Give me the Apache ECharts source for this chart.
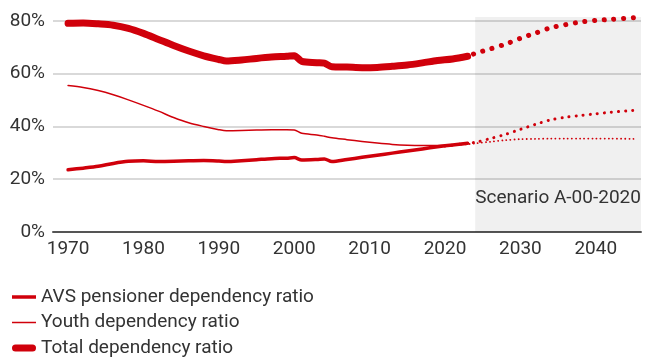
<!DOCTYPE html>
<html>
<head>
<meta charset="utf-8">
<script src="https://cdn.jsdelivr.net/npm/echarts@6/dist/echarts.min.js"></script>
<style>
  html, body { margin: 0; padding: 0; background: #fff; }
  #chart { width: 646px; height: 357px; }
</style>
</head>
<body>
<div id="chart"></div>
<script>
// Historical years and ratios (%)
const histYears = [1970, 1972, 1974, 1976, 1978, 1980, 1982, 1984, 1986, 1988, 1990, 1991, 1993, 1995, 1997, 1999, 2000, 2001, 2003, 2004, 2005, 2007, 2009, 2011, 2013, 2015, 2017, 2019, 2021, 2023];
const avsHist   = [23.6, 24.2, 24.9, 26.0, 26.8, 27.0, 26.7, 26.8, 27.0, 27.1, 26.9, 26.7, 27.0, 27.4, 27.8, 28.0, 28.2, 27.3, 27.5, 27.7, 26.7, 27.5, 28.3, 29.1, 29.9, 30.7, 31.5, 32.3, 33.0, 33.6];
const youthHist = [55.5, 54.8, 53.6, 52.0, 50.1, 48.0, 45.8, 43.4, 41.4, 40.0, 38.8, 38.4, 38.5, 38.7, 38.8, 38.8, 38.7, 37.4, 36.8, 36.3, 35.7, 35.0, 34.3, 33.7, 33.2, 32.9, 32.8, 32.8, 33.0, 33.3];
const totalHist = [79.1, 79.2, 78.9, 78.4, 77.2, 75.3, 73.0, 70.7, 68.6, 66.8, 65.4, 64.8, 65.2, 65.8, 66.3, 66.6, 66.8, 64.7, 64.2, 64.0, 62.6, 62.5, 62.3, 62.4, 62.8, 63.3, 64.1, 65.0, 65.6, 66.6];

// Scenario A-00-2020 projections (%)
const projYears  = [2020, 2023, 2024, 2026, 2028, 2030, 2032, 2034, 2036, 2038, 2040, 2042, 2045];
const avsProj    = [32.6, 33.6, 34.0, 35.4, 37.0, 38.9, 40.8, 42.5, 43.5, 44.2, 44.8, 45.4, 46.1];
const youthProj  = [32.9, 33.3, 33.6, 34.2, 34.8, 35.2, 35.3, 35.4, 35.4, 35.4, 35.4, 35.4, 35.3];
const totalProj  = [65.3, 66.6, 67.7, 69.4, 71.2, 73.4, 75.4, 77.4, 78.6, 79.6, 80.2, 80.6, 81.2];

const scenarioStart = 2024;
const scenarioEnd = 2046;
const scenarioLabel = 'Scenario A-00-2020';

const names = ['AVS pensioner dependency ratio', 'Youth dependency ratio', 'Total dependency ratio'];
const yTicks = [0, 20, 40, 60, 80];

const RED = '#d0000b';
const FONT = 'Roboto, sans-serif';
const TEXT = '#333333';
const FS = 19;

// Legend keys: plain bars of the series' line thickness
const legendIcons = [
  'path://M0,0L24,0L24,3.5L0,3.5Z',
  'path://M0,0L24,0L24,1.5L0,1.5Z',
  'path://M3.5,0L20.5,0A3.5,3.5 0 0 1 20.5,7L3.5,7A3.5,3.5 0 0 1 3.5,0Z'
];

function pairs(xs, ys) { return xs.map((x, i) => [x, ys[i]]); }

function solid(name, ys, width) {
  return {
    name, type: 'line', data: pairs(histYears, ys),
    symbol: 'none', smooth: 0.3, z: 3,
    lineStyle: { color: RED, width, cap: 'round', join: 'round' },
    itemStyle: { color: RED },
    emphasis: { disabled: true }
  };
}
function dotted(name, ys, width, gap) {
  return {
    name, type: 'line', data: pairs(projYears, ys),
    symbol: 'none', smooth: 0.3, z: 2,
    lineStyle: { color: RED, width, cap: 'round', type: [0.1, gap] },
    itemStyle: { color: RED },
    emphasis: { disabled: true }
  };
}

const totalDots = dotted('Total projection', totalProj, 5, 9.6);
totalDots.markArea = {
  silent: true,
  itemStyle: { color: 'rgba(0,0,0,0.06)' },
  label: {
    show: true, position: 'insideBottom', distance: 24.5,
    fontFamily: FONT, fontSize: FS, color: TEXT
  },
  data: [[{ xAxis: scenarioStart, name: scenarioLabel }, { xAxis: scenarioEnd }]]
};

const chart = echarts.init(document.getElementById('chart'), null, { renderer: 'canvas' });
chart.setOption({
  animation: false,
  textStyle: { fontFamily: FONT },
  grid: { left: 53, right: 5, top: 17, bottom: 125, containLabel: false },
  legend: {
    data: names.map((n, i) => ({ name: n, icon: legendIcons[i], itemStyle: { color: RED, borderWidth: 0 } })),
    orient: 'vertical', left: 12, top: 287.5, height: 90, padding: 0,
    itemWidth: 24, itemHeight: 14, itemGap: 6.5,
    symbolKeepAspect: true,
    textStyle: { fontFamily: FONT, fontSize: FS, color: TEXT, lineHeight: 19 },
    selectedMode: false
  },
  xAxis: {
    type: 'value', min: 1968, max: 2046, splitNumber: 8,
    axisLine: { show: true, lineStyle: { color: '#555555', width: 2 } },
    axisTick: { show: false },
    splitLine: { show: false },
    axisLabel: {
      fontFamily: FONT, fontSize: FS, color: TEXT, margin: 8,
      showMinLabel: false, showMaxLabel: false,
      formatter: v => String(v)
    }
  },
  yAxis: {
    type: 'value', min: yTicks[0], max: 81.5, interval: 20,
    axisLine: { show: false },
    axisTick: { show: false },
    splitLine: { show: true, showMinLine: false, showMaxLine: false, lineStyle: { color: '#cccccc', width: 1.5 } },
    axisLabel: {
      fontFamily: FONT, fontSize: FS, color: TEXT, margin: 8,
      showMaxLabel: false,
      formatter: v => v + '%'
    }
  },
  series: [
    solid(names[0], avsHist, 3.5),
    solid(names[1], youthHist, 1.5),
    solid(names[2], totalHist, 7),
    dotted('AVS projection', avsProj, 3, 7),
    dotted('Youth projection', youthProj, 1.8, 4),
    totalDots
  ]
});
</script>
</body>
</html>
